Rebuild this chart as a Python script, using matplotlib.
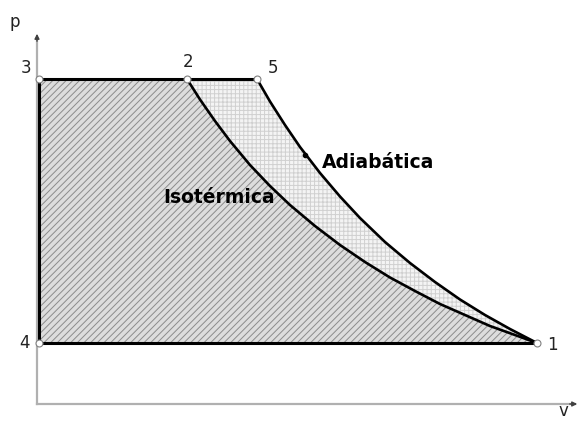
import matplotlib
matplotlib.use("Agg")
import matplotlib.pyplot as plt

# state points (v, p)
V_LEFT = 0.04      # points 3 and 4
V_2 = 3.0
V_5 = 4.4
V_1 = 10.0
P_TOP = 6.5        # points 3, 2, 5
P_BOT = 1.22       # points 4, 1

# isothermal curve 2 -> 1
iso_v = [3.0, 3.26, 3.56, 3.86, 4.26, 4.66, 5.06, 5.56, 6.06, 6.56, 7.06, 7.56, 8.06, 8.56, 9.06, 9.56, 10.0]
iso_p = [6.5, 6.09, 5.66, 5.26, 4.78, 4.36, 3.98, 3.56, 3.18, 2.84, 2.53, 2.26, 2.0, 1.78, 1.56, 1.38, 1.22]

# adiabatic curve 5 -> 1
adi_v = [4.4, 4.66, 4.96, 5.26, 5.66, 6.06, 6.46, 6.96, 7.46, 7.96, 8.46, 8.96, 9.46, 10.0]
adi_p = [6.5, 6.05, 5.58, 5.14, 4.62, 4.15, 3.72, 3.24, 2.82, 2.44, 2.09, 1.78, 1.5, 1.22]

point_names = ["3", "2", "5", "4", "1"]
point_v = [V_LEFT, V_2, V_5, V_LEFT, V_1]
point_p = [P_TOP, P_TOP, P_TOP, P_BOT, P_BOT]

plt.rcParams['hatch.linewidth'] = 0.7

fig = plt.figure(figsize=(5.81, 4.21), dpi=100)
ax = fig.add_axes([0, 0, 1, 1])
ax.set_xlim(-0.74, 10.88)
ax.set_ylim(-0.34, 8.08)
ax.axis('off')

# axes with arrows
ax.plot([0, 0], [0, 7.3], color='#b0b0b0', lw=1.6, zorder=2)
ax.plot([0, 10.75], [0, 0], color='#b0b0b0', lw=1.6, zorder=2)
ax.annotate('', xy=(0, 7.46), xytext=(0, 7.2),
            arrowprops=dict(arrowstyle='-|>', color='#404040', lw=1.0, mutation_scale=7))
ax.annotate('', xy=(10.86, 0), xytext=(10.6, 0),
            arrowprops=dict(arrowstyle='-|>', color='#404040', lw=1.0, mutation_scale=7))

# isothermal cycle area (hatched)
fill_v = [V_LEFT] + iso_v + [V_LEFT]
fill_p = [P_TOP] + iso_p + [P_BOT]
ax.fill(fill_v, fill_p, facecolor='#dddddd', edgecolor='#8c8c8c', hatch='/////', lw=0, zorder=1)

# extra area between isothermal and adiabatic
band_v = iso_v + adi_v[::-1]
band_p = iso_p + adi_p[::-1]
ax.fill(band_v, band_p, facecolor='#f4f4f4', edgecolor='#d0d0d0', hatch='++++', lw=0, zorder=1)

# boundaries
ax.plot([V_LEFT, V_5], [P_TOP, P_TOP], color='black', lw=2.2, zorder=3, solid_capstyle='butt')
ax.plot([V_LEFT, V_LEFT], [P_TOP, P_BOT], color='black', lw=2.2, zorder=3)
ax.plot([V_LEFT, V_1], [P_BOT, P_BOT], color='black', lw=2.2, zorder=3)
ax.plot(iso_v, iso_p, color='black', lw=1.9, zorder=3, solid_joinstyle='round')
ax.plot(adi_v, adi_p, color='black', lw=1.9, zorder=3, solid_joinstyle='round')

ax.plot(point_v, point_p, 'o', ms=5, mfc='white', mec='#808080', mew=0.8, zorder=4)

# point labels
label_pos = {"3": (-0.22, 6.72), "2": (3.02, 6.84), "5": (4.72, 6.72),
             "4": (-0.24, 1.22), "1": (10.3, 1.18)}
for name in point_names:
    x, y = label_pos[name]
    ax.text(x, y, name, fontsize=12, ha='center', va='center', color='#222222')

ax.text(-0.44, 7.64, 'p', fontsize=12, ha='center', va='center', color='#222222')
ax.text(10.52, -0.14, 'v', fontsize=12, ha='center', va='center', color='#222222')

# curve names
ax.plot([5.36], [4.98], 'o', ms=3, color='black', zorder=4)
ax.text(5.7, 4.84, 'Adiabática', fontsize=13.5, fontweight='bold', ha='left', va='center')
ax.text(2.52, 4.14, 'Isotérmica', fontsize=13.5, fontweight='bold', ha='left', va='center')

fig.savefig('out.png', dpi=100)
